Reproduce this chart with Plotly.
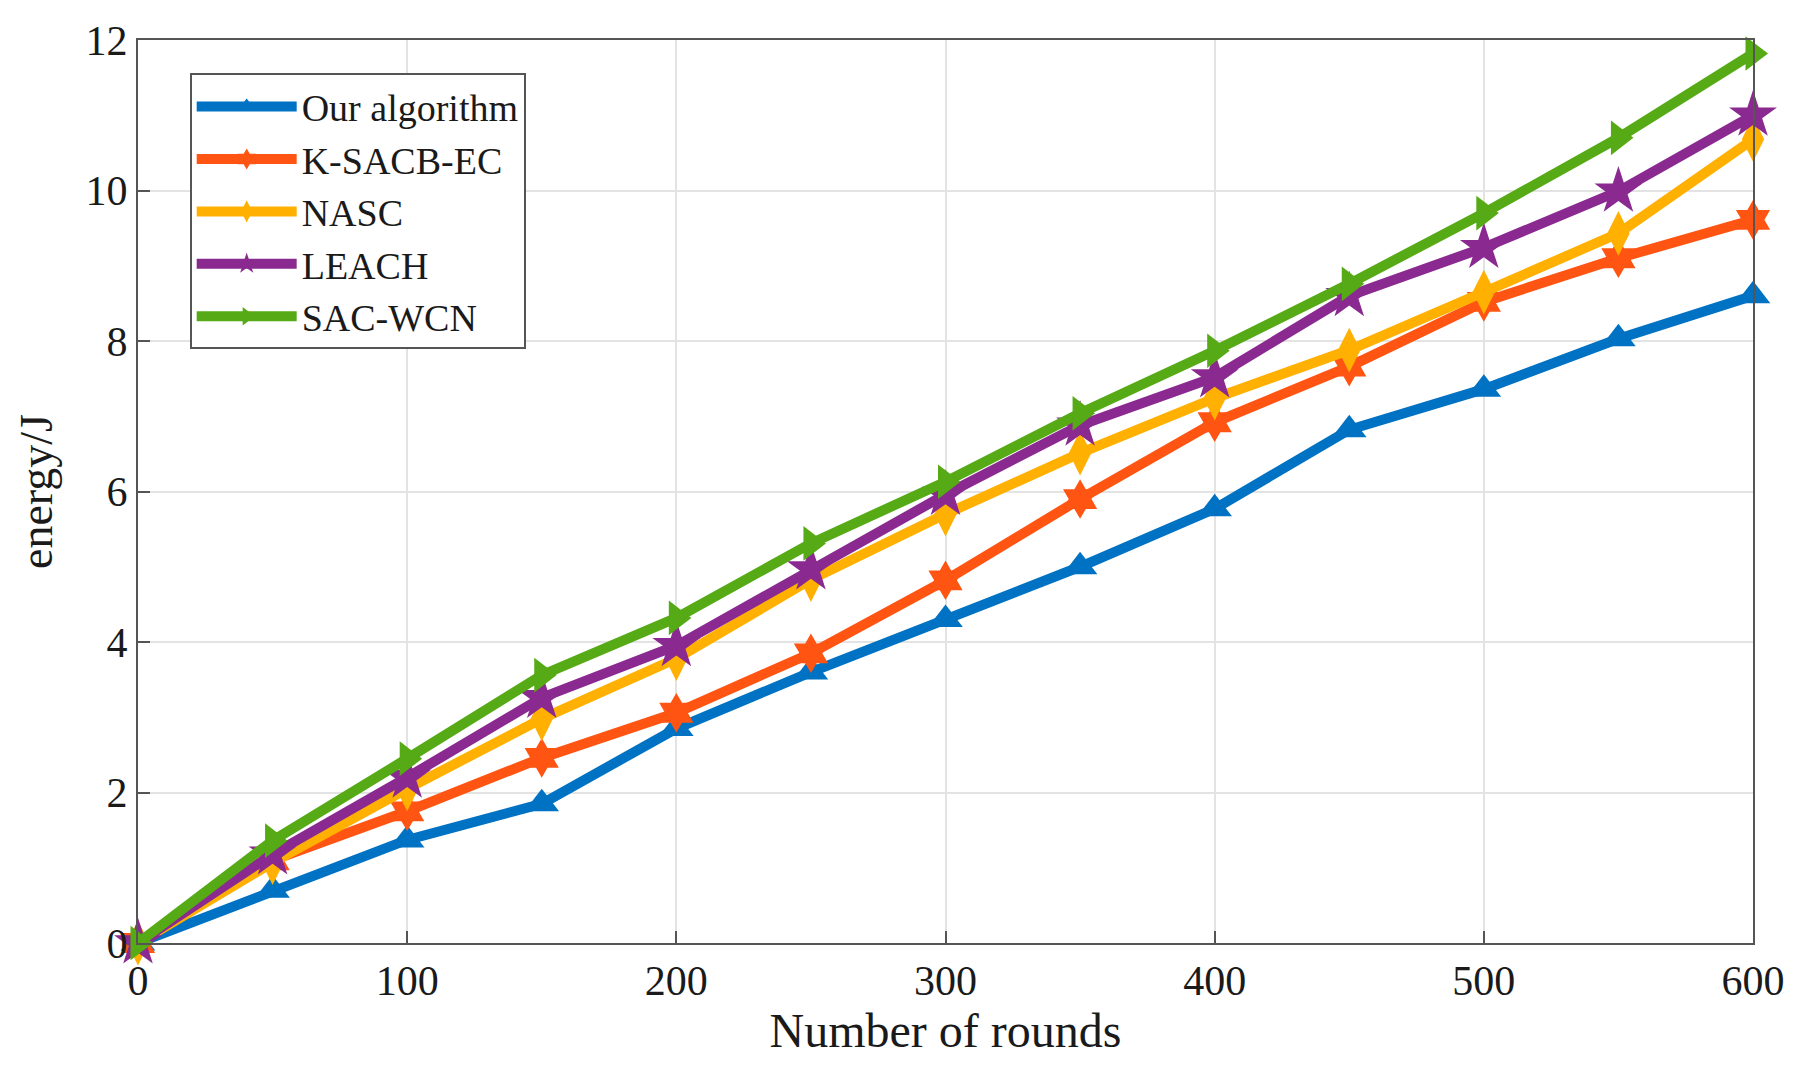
import plotly.graph_objects as go

# Numero de rondas
rounds = [0, 50, 100, 150, 200, 250, 300, 350, 400, 450, 500, 550, 600]

# Energia consumida (J) por algoritmo
our_alg = [0, 0.7, 1.37, 1.85, 2.85, 3.6, 4.3, 5.0, 5.77, 6.82, 7.36, 8.03, 8.6]
k_sacb_ec = [0, 1.1, 1.75, 2.46, 3.06, 3.85, 4.82, 5.9, 6.92, 7.66, 8.52, 9.1, 9.61]
nasc = [0, 1.07, 2.05, 2.98, 3.78, 4.83, 5.7, 6.51, 7.24, 7.88, 8.65, 9.43, 10.68]
leach = [0, 1.18, 2.2, 3.26, 3.95, 4.97, 5.96, 6.88, 7.52, 8.6, 9.24, 9.99, 11.0]
sac_wcn = [0, 1.36, 2.45, 3.56, 4.32, 5.31, 6.13, 7.04, 7.87, 8.76, 9.7, 10.7, 11.82]

y_ticks = [0, 2, 4, 6, 8, 10, 12]
x_ticks = [0, 100, 200, 300, 400, 500, 600]

series = [
    ('Our algorithm', our_alg, '#0072C4', 'triangle-up', 30),
    ('K-SACB-EC', k_sacb_ec, '#FF5412', 'hexagram', 30),
    ('NASC', nasc, '#FFB000', 'diamond-tall', 32),
    ('LEACH', leach, '#8A2A90', 'star', 36),
    ('SAC-WCN', sac_wcn, '#55AA15', 'triangle-right', 30),
]

fig = go.Figure()
for name, vals, color, symbol, size in series:
    fig.add_trace(go.Scatter(
        x=rounds, y=vals, name=name, mode='lines+markers',
        line=dict(color=color, width=10),
        marker=dict(symbol=symbol, size=size, color=color),
        cliponaxis=False,
    ))

axis_style = dict(
    showline=True, mirror=True, linecolor='#555555', linewidth=2,
    ticks='inside', ticklen=12, tickwidth=1.5, tickcolor='#555555',
    showgrid=True, gridcolor='#E3E3E3', gridwidth=1.5, zeroline=False,
    tickfont=dict(family='Liberation Serif', size=42, color='#1a1a1a'),
)

fig.update_xaxes(range=[0, 600], tickvals=x_ticks, **axis_style,
                 title=dict(text='Number of rounds', standoff=6,
                            font=dict(family='Liberation Serif', size=48, color='#1a1a1a')))
fig.update_yaxes(range=[0, 12], tickvals=y_ticks, **axis_style,
                 title=dict(text='energy/J', standoff=18,
                            font=dict(family='Liberation Serif', size=46, color='#1a1a1a')))

fig.update_layout(
    width=1794, height=1067,
    template='none',
    paper_bgcolor='white', plot_bgcolor='white',
    margin=dict(l=130, r=49, t=32, b=132),
    legend=dict(
        x=0.032, y=0.963, xanchor='left', yanchor='top',
        bgcolor='white', bordercolor='#555555', borderwidth=2,
        font=dict(family='Liberation Serif', size=38, color='#1a1a1a'),
        itemwidth=100, entrywidth=390, tracegroupgap=0,
    ),
    showlegend=True,
)

fig.write_html('out.html')
